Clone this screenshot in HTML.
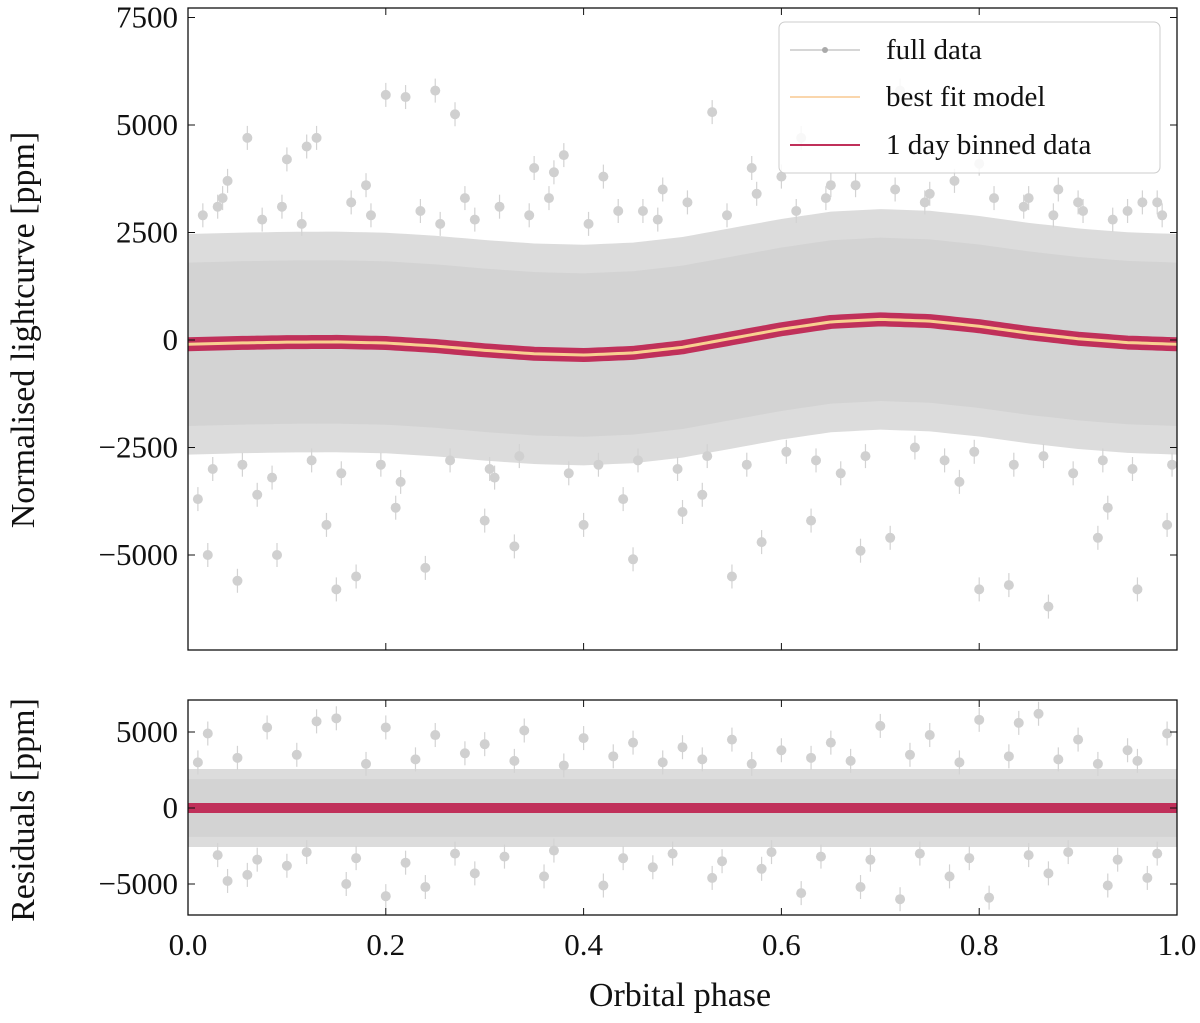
<!DOCTYPE html>
<html><head><meta charset="utf-8"><style>
body{margin:0;background:#fff}
svg text{font-family:"Liberation Serif",serif;fill:#111}
</style></head><body>
<svg id="c" width="1200" height="1018"></svg>
<script>
const modelPhase=[0,0.05,0.1,0.15,0.2,0.25,0.3,0.35,0.4,0.45,0.5,0.55,0.6,0.65,0.7,0.75,0.8,0.85,0.9,0.95,1.0];
const modelFlux=[-100,-70,-50,-45,-70,-140,-240,-320,-350,-300,-170,40,250,420,480,440,320,160,30,-60,-100];
const topOutPhase=[0.04,0.06,0.1,0.12,0.13,0.2,0.22,0.25,0.27,0.35,0.38,0.42,0.46,0.53,0.57,0.62,0.65,0.72,0.8,0.85,0.9,0.95,0.02,0.05,0.09,0.15,0.17,0.24,0.3,0.33,0.4,0.45,0.5,0.55,0.58,0.63,0.68,0.71,0.8,0.83,0.87,0.92,0.96,0.99,0.03,0.18,0.28,0.37,0.48,0.6,0.75,0.88,0.98,0.01,0.07,0.14,0.21,0.31,0.44,0.52,0.66,0.78,0.93,
0.015,0.035,0.075,0.095,0.115,0.165,0.185,0.235,0.255,0.29,0.315,0.345,0.365,0.405,0.435,0.475,0.505,0.545,0.575,0.615,0.645,0.675,0.715,0.745,0.775,0.815,0.845,0.875,0.905,0.935,0.965,0.985,
0.025,0.055,0.085,0.125,0.155,0.195,0.215,0.265,0.305,0.335,0.385,0.415,0.455,0.495,0.525,0.565,0.605,0.635,0.685,0.735,0.765,0.795,0.835,0.865,0.895,0.925,0.955,0.995];
const topOutFlux=[3700,4700,4200,4500,4700,5700,5650,5800,5250,4000,4300,3800,3000,5300,4000,4700,3600,5800,4100,3300,3200,3000,-5000,-5600,-5000,-5800,-5500,-5300,-4200,-4800,-4300,-5100,-4000,-5500,-4700,-4200,-4900,-4600,-5800,-5700,-6200,-4600,-5800,-4300,3100,3600,3300,3900,3500,3800,3400,3500,3200,-3700,-3600,-4300,-3900,-3200,-3700,-3600,-3100,-3300,-3900,
2900,3300,2800,3100,2700,3200,2900,3000,2700,2800,3100,2900,3300,2700,3000,2800,3200,2900,3400,3000,3300,3600,3500,3200,3700,3300,3100,2900,3000,2800,3200,2900,
-3000,-2900,-3200,-2800,-3100,-2900,-3300,-2800,-3000,-2700,-3100,-2900,-2800,-3000,-2700,-2900,-2600,-2800,-2700,-2500,-2800,-2600,-2900,-2700,-3100,-2800,-3000,-2900];
const botOutPhase=[0.02,0.08,0.13,0.15,0.2,0.25,0.3,0.34,0.4,0.45,0.5,0.55,0.6,0.65,0.7,0.75,0.8,0.84,0.86,0.9,0.95,0.99,0.04,0.06,0.1,0.16,0.2,0.24,0.29,0.36,0.42,0.47,0.53,0.58,0.62,0.68,0.72,0.77,0.81,0.87,0.93,0.97,
0.01,0.05,0.11,0.18,0.23,0.28,0.33,0.38,0.43,0.48,0.52,0.57,0.63,0.67,0.73,0.78,0.83,0.88,0.92,0.96,
0.03,0.07,0.12,0.17,0.22,0.27,0.32,0.37,0.44,0.49,0.54,0.59,0.64,0.69,0.74,0.79,0.85,0.89,0.94,0.98];
const botOutFlux=[4900,5300,5700,5900,5300,4800,4200,5100,4600,4300,4000,4500,3800,4300,5400,4800,5800,5600,6200,4500,3800,4900,-4800,-4400,-3800,-5000,-5800,-5200,-4300,-4500,-5100,-3900,-4600,-4000,-5600,-5200,-6000,-4500,-5900,-4300,-5100,-4600,
3000,3300,3500,2900,3200,3600,3100,2800,3400,3000,3200,2900,3300,3100,3500,3000,3400,3200,2900,3100,
-3100,-3400,-2900,-3300,-3600,-3000,-3200,-2800,-3300,-3000,-3500,-2900,-3200,-3400,-3000,-3300,-3100,-2900,-3400,-3000];
const topTicks=[7500,5000,2500,0,-2500,-5000];
const topTickLabels=["7500","5000","2500","0","\u22122500","\u22125000"];
const botTicks=[5000,0,-5000];
const botTickLabels=["5000","0","\u22125000"];
const xTicks=[0,0.2,0.4,0.6,0.8,1.0];
const xTickLabels=["0.0","0.2","0.4","0.6","0.8","1.0"];

const NS="http://www.w3.org/2000/svg";
const svg=document.getElementById('c');
const X0=188,X1=1177;
const T={top:8,bot:650,z:340,k:107.5/2500};
const B={top:700,bot:915,z:808,k:76/5000};
const sx=p=>X0+p*(X1-X0);
const sy=(P,v)=>P.z-v*P.k;
function el(tag,attrs,parent){const e=document.createElementNS(NS,tag);for(const k in attrs)e.setAttribute(k,attrs[k]);(parent||svg).appendChild(e);return e;}
function model(p){for(let i=0;i<modelPhase.length-1;i++){if(p<=modelPhase[i+1]){const t=(p-modelPhase[i])/(modelPhase[i+1]-modelPhase[i]);return modelFlux[i]+t*(modelFlux[i+1]-modelFlux[i]);}}return modelFlux[modelFlux.length-1];}

function panel(P,name,bandHalf,useModel,outP,outF){
  const g=el('g',{});
  
  
  const clip=el('clipPath',{id:name+'clip'},g);
  el('rect',{x:X0,y:P.top,width:X1-X0,height:P.bot-P.top},clip);
  const d=el('g',{'clip-path':'url(#'+name+'clip)'},g);
  const N=100;let up=[],lo=[],up2=[],lo2=[];
  for(let i=0;i<=N;i++){const p=i/N;const m=useModel?model(p):0;
    up.push(sx(p)+','+sy(P,m+bandHalf));lo.unshift(sx(p)+','+sy(P,m-bandHalf));
    up2.push(sx(p)+','+sy(P,m+bandHalf*1.35));lo2.unshift(sx(p)+','+sy(P,m-bandHalf*1.35));}
  const b2=el('polygon',{points:up2.concat(lo2).join(' '),fill:'#d3d3d3',opacity:0.8},d);
  
  
  const b=el('polygon',{points:up.concat(lo).join(' '),fill:'#d3d3d3'},d);
  
  
  for(let i=0;i<outP.length;i++){
    const x=sx(outP[i]),y=sy(P,outF[i]);
    el('line',{x1:x,x2:x,y1:y-12,y2:y+12,stroke:'#d3d3d3','stroke-width':1.2},d);
    const c=el('circle',{cx:x,cy:y,r:5,fill:'#d0d0d0'},d);
    
    
  }
  let pts=[];
  for(let i=0;i<=200;i++){const p=i/200;pts.push(sx(p)+','+sy(P,useModel?model(p):0));}
  const rb=el('polyline',{points:pts.join(' '),fill:'none',stroke:'#c0305a','stroke-width':useModel?14:10,'stroke-linejoin':'round'},d);
  
  
  if(useModel){
    const ml=el('polyline',{points:pts.join(' '),fill:'none',stroke:'#f8d090','stroke-width':3},d);
    
    
  }
  el('rect',{x:X0,y:P.top,width:X1-X0,height:P.bot-P.top,fill:'none',stroke:'#111','stroke-width':1.3},g);
  xTicks.forEach(t=>{const x=sx(t);el('line',{x1:x,x2:x,y1:P.bot,y2:P.bot-7,stroke:'#111'},g);el('line',{x1:x,x2:x,y1:P.top,y2:P.top+7,stroke:'#111'},g);});
  return g;
}
const gt=panel(T,'top',1900,true,topOutPhase,topOutFlux);
const gb=panel(B,'residuals',1900,false,botOutPhase,botOutFlux);
function yAxis(P,g,ticks,labels){
  ticks.forEach((t,i)=>{const y=sy(P,t);
    el('line',{x1:X0,x2:X0+7,y1:y,y2:y,stroke:'#111'},g);
    el('line',{x1:X1,x2:X1-7,y1:y,y2:y,stroke:'#111'},g);
    const tx=el('text',{x:X0-10,y:y+10,'text-anchor':'end','font-size':31},g);tx.textContent=labels[i];
    
    
  });
}
yAxis(T,gt,topTicks,topTickLabels);
yAxis(B,gb,botTicks,botTickLabels);
xTicks.forEach((t,i)=>{const tx=el('text',{x:sx(t),y:955,'text-anchor':'middle','font-size':31});tx.textContent=xTickLabels[i];
  
  });
let t=el('text',{x:680,y:1006,'text-anchor':'middle','font-size':34});t.textContent='Orbital phase';


t=el('text',{x:0,y:0,'text-anchor':'middle','font-size':34,transform:'translate(34,330) rotate(-90)'});t.textContent='Normalised lightcurve [ppm]';


t=el('text',{x:0,y:0,'text-anchor':'middle','font-size':34,transform:'translate(34,810) rotate(-90)'});t.textContent='Residuals [ppm]';


const lg=el('g',{});


el('rect',{x:779,y:22,width:381,height:151,rx:6,fill:'#fff','fill-opacity':0.85,stroke:'#ccc'},lg);
const entries=[['full data','#c8c8c8',50],['best fit model','#f8c890',97],['1 day binned data','#c0305a',145]];
entries.forEach((e,i)=>{
  const ge=el('g',{},lg);
  
  
  el('line',{x1:790,x2:860,y1:e[2],y2:e[2],stroke:e[1],'stroke-width':i==2?2:1.5},ge);
  if(i==0)el('circle',{cx:825,cy:e[2],r:3,fill:'#aaa'},ge);
  const tx=el('text',{x:886,y:e[2]+9,'font-size':29},ge);tx.textContent=e[0];
});
</script>
</body></html>
